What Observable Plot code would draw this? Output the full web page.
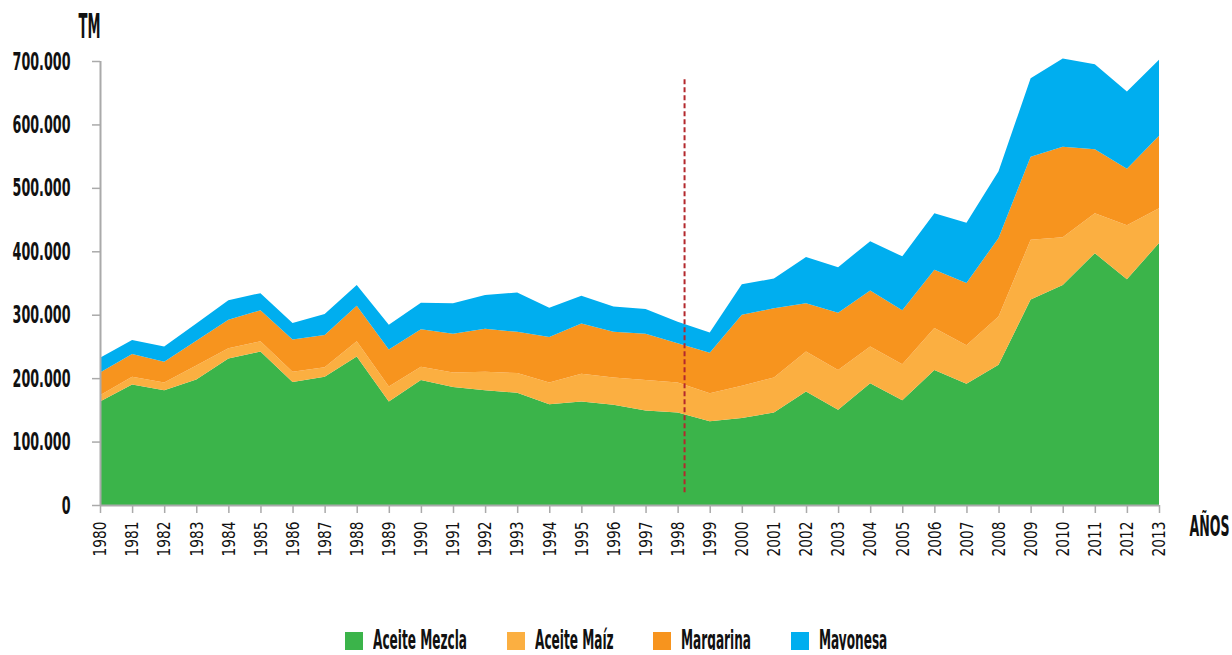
<!DOCTYPE html>
<html>
<head>
<meta charset="utf-8">
<script src="https://cdn.jsdelivr.net/npm/d3@7"></script>
<script src="https://cdn.jsdelivr.net/npm/@observablehq/plot@0.6"></script>
<style>
  body { margin: 0; background: #fff; font-family: 'DejaVu Sans Condensed', 'Liberation Sans Narrow', sans-serif; color: #111; }
  #legend { display: flex; justify-content: center; align-items: flex-end; margin-top: 30px; height: 20px; }
  .item { display: flex; align-items: flex-end; margin: 0 20px; }
  .sw { width: 18px; height: 18px; margin-right: 10px; }
  .lbl { font-size: 27px; font-weight: bold; line-height: 20px; display: inline-block; transform-origin: left bottom; white-space: nowrap; }
</style>
</head>
<body>
<div id="chart"></div>
<div id="legend"></div>
<script>
const years = [1980,1981,1982,1983,1984,1985,1986,1987,1988,1989,1990,1991,1992,1993,1994,1995,1996,1997,1998,1999,2000,2001,2002,2003,2004,2005,2006,2007,2008,2009,2010,2011,2012,2013];
const series = ["Aceite Mezcla", "Aceite Maíz", "Margarina", "Mayonesa"];
const colors = ["#3BB44A", "#FBAF41", "#F7941E", "#00AEEF"];

const aceiteMezcla = [163000,190000,181000,198000,231000,242000,194000,202000,234000,163000,197000,186000,181000,177000,159000,163000,158000,149000,146000,132000,137000,146000,179000,150000,192000,165000,213000,191000,221000,324000,347000,397000,356000,413000];
const aceiteMaiz   = [10000,12000,12000,22000,16000,16000,16000,15000,24000,24000,21000,23000,29000,31000,34000,44000,43000,48000,47000,44000,51000,55000,63000,63000,58000,57000,66000,61000,76000,94000,75000,63000,85000,55000];
const margarina    = [36000,36000,33000,39000,45000,49000,51000,51000,56000,58000,59000,61000,68000,65000,72000,79000,72000,73000,62000,64000,112000,109000,76000,90000,88000,85000,92000,98000,124000,131000,143000,101000,89000,114000];
const mayonesa     = [23000,22000,24000,27000,31000,27000,26000,33000,33000,39000,42000,48000,53000,62000,46000,44000,40000,39000,34000,32000,48000,47000,73000,72000,78000,85000,89000,95000,105000,124000,139000,134000,122000,120000];

const yTicks = [0,100000,200000,300000,400000,500000,600000,700000];
const yLabel = "TM";
const xLabel = "AÑOS";
const divider = {year: 1998.2, from: 20000, to: 672000};

const valuesBySeries = [aceiteMezcla, aceiteMaiz, margarina, mayonesa];
const table = [];
series.forEach((s, i) => years.forEach((y, j) => table.push({year: y, series: s, value: valuesBySeries[i][j]})));

const esLocale = d3.formatLocale({decimal: ",", thousands: ".", grouping: [3], currency: ["", "€"]});
const fmt = esLocale.format(",");
const FONT = "'DejaVu Sans Condensed', 'Liberation Sans Narrow', sans-serif";

const chart = Plot.plot({
  width: 1232,
  height: 600,
  marginLeft: 100,
  marginRight: 73,
  marginTop: 61,
  marginBottom: 95,
  x: {domain: [1980, 2013]},
  y: {domain: [0, 700000]},
  color: {domain: series, range: colors},
  style: {fontFamily: FONT, background: "white", color: "#111", overflow: "visible"},
  marks: [
    Plot.areaY(table, {x: "year", y: "value", fill: "series", order: series}),
    Plot.ruleX([divider.year], {y1: divider.from, y2: divider.to, stroke: "#B3282D", strokeWidth: 2, strokeDasharray: "5,3"}),
    Plot.ruleY([0], {stroke: "#AAAAAA", strokeWidth: 2}),
    Plot.ruleX([1980], {stroke: "#AAAAAA", strokeWidth: 2}),
    Plot.axisY({ticks: yTicks, tickFormat: fmt, tickSize: 8, tickPadding: 22, stroke: "#AAAAAA", strokeWidth: 1.5, fill: "#111", fontSize: 25, fontWeight: "bold", label: null}),
    Plot.axisX({ticks: years, tickFormat: d => String(d), tickRotate: -90, tickSize: 8, tickPadding: 8, stroke: "#AAAAAA", strokeWidth: 1.5, fill: "#111", fontSize: 18, label: null}),
    Plot.text([yLabel], {text: d => d, frameAnchor: "top-left", dx: -22, dy: -24, lineAnchor: "bottom", textAnchor: "start", fontSize: 33, fontWeight: "bold", fill: "#111"}),
    Plot.text([xLabel], {text: d => d, frameAnchor: "bottom-right", dx: 30, dy: 30, lineAnchor: "bottom", textAnchor: "start", fontSize: 28, fontWeight: "bold", fill: "#111"})
  ]
});
document.getElementById("chart").append(chart);

// Condense text horizontally (the reference uses a compressed typeface)
const allTexts = Array.from(chart.getElementsByTagName("text"));
function textWidth(t) {
  let w = 0;
  try { w = t.getComputedTextLength(); } catch (e) {}
  if (!w) { try { w = t.getBBox().width; } catch (e) {} }
  return w;
}
function squeezeGroup(texts, refText, targetWidth) {
  if (!texts.length) return;
  const ref = texts.find(t => t.textContent === refText) || texts[0];
  const w = textWidth(ref);
  if (!w) return;
  const f = targetWidth / w;
  texts.forEach(t => {
    const ax = parseFloat(t.getAttribute("x") || 0) || 0;
    const tr = t.getAttribute("transform") || "";
    t.setAttribute("transform", `${tr} translate(${ax},0) scale(${f},1) translate(${-ax},0)`.trim());
  });
}
const yTickTexts = yTicks.map(fmt);
const yearTexts = years.map(String);
squeezeGroup(allTexts.filter(t => yTickTexts.includes(t.textContent)), "700.000", 58);
squeezeGroup(allTexts.filter(t => yearTexts.includes(t.textContent)), "1980", 35);
squeezeGroup(allTexts.filter(t => t.textContent === yLabel), yLabel, 22);
squeezeGroup(allTexts.filter(t => t.textContent === xLabel), xLabel, 40);

const legend = document.getElementById("legend");
series.forEach((s, i) => {
  const item = document.createElement("div");
  item.className = "item";
  const sw = document.createElement("span");
  sw.className = "sw";
  sw.style.background = colors[i];
  const lbl = document.createElement("span");
  lbl.className = "lbl";
  lbl.textContent = s;
  item.append(sw, lbl);
  legend.append(item);
});
const lbls = Array.from(legend.querySelectorAll(".lbl"));
const lf = 94 / lbls[0].getBoundingClientRect().width;
lbls.forEach(l => {
  const w = l.getBoundingClientRect().width;
  l.style.transform = `scaleX(${lf})`;
  l.style.marginRight = `${-w * (1 - lf)}px`;
});
</script>
</body>
</html>
